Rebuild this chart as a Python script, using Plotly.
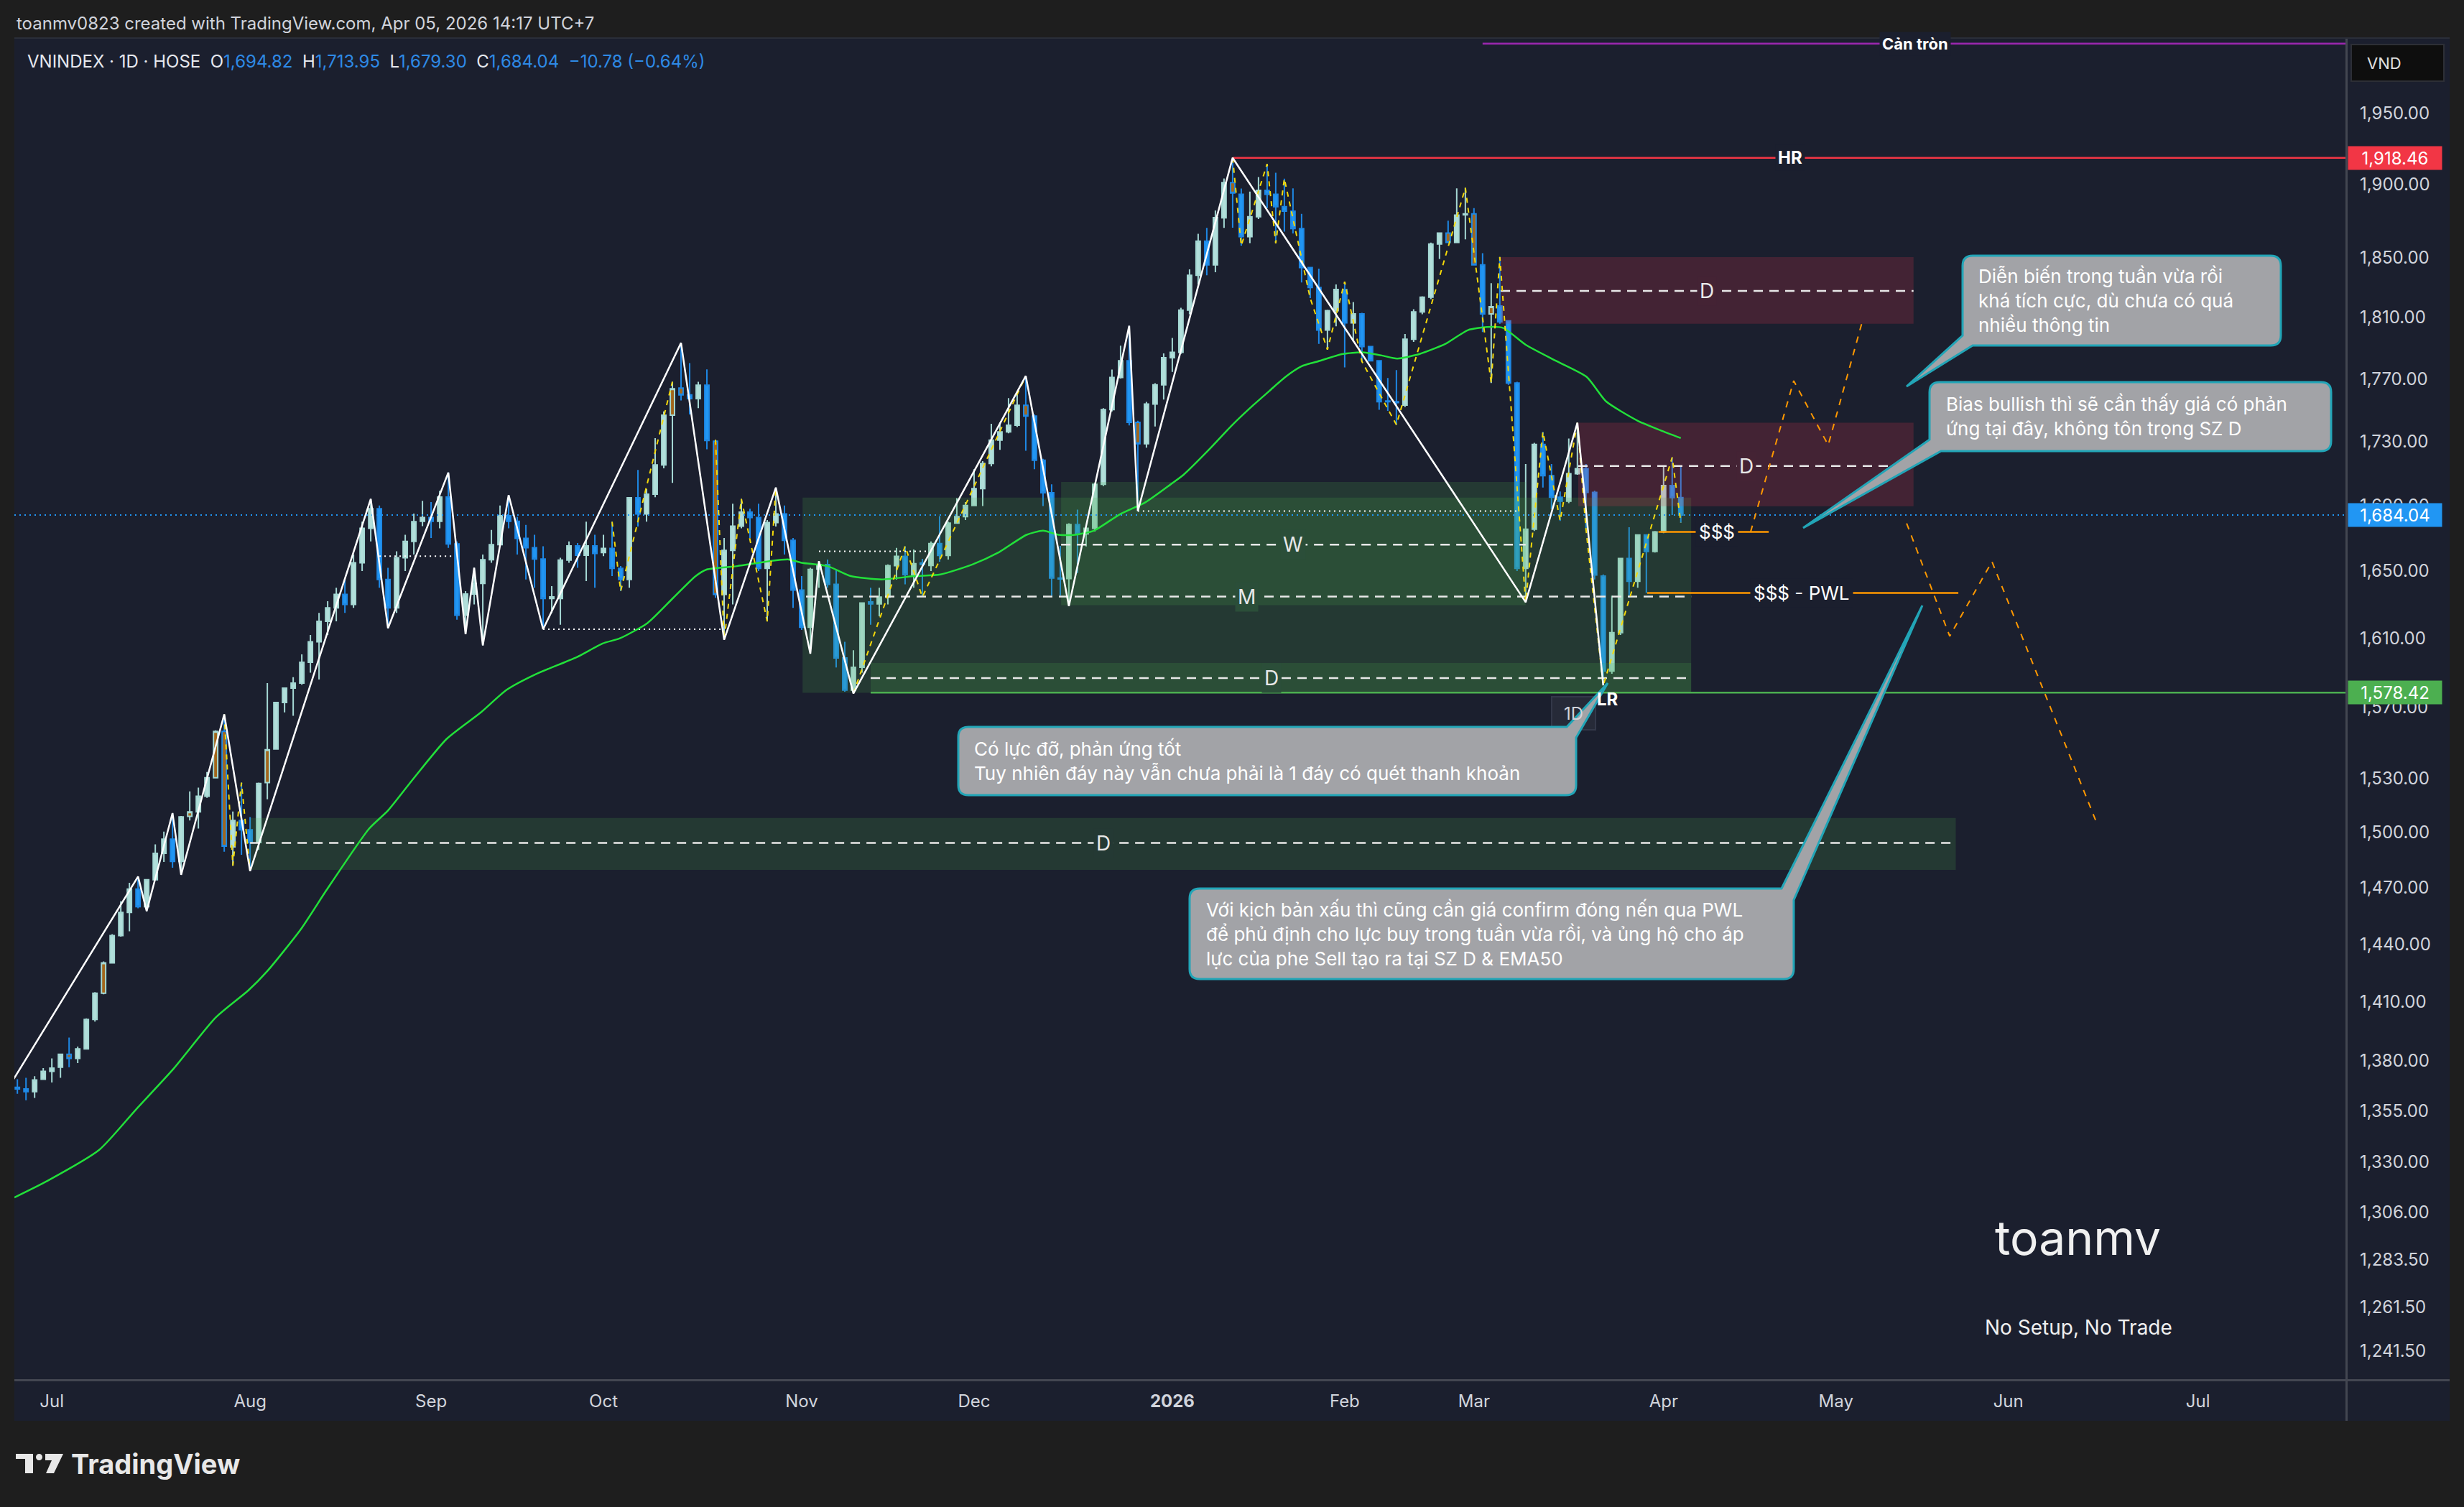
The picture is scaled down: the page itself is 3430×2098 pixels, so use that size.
import numpy as np
import pandas as pd
import plotly.graph_objects as go

# ---------------------------------------------------------------- calendar
FIRST_DAY = "2025-06-25"
LAST_DAY = "2026-07-31"
VN_HOLIDAYS = ["2025-09-01", "2025-09-02", "2026-01-01", "2026-01-02",
               "2026-02-16", "2026-02-17", "2026-02-18", "2026-02-19", "2026-02-20",
               "2026-04-27", "2026-04-30", "2026-05-01"]

# ---------------------------------------------------------------- OHLC (VNINDEX, 1D)
open_ = [1366.8, 1366.0, 1364.7, 1370.8, 1374.8, 1376.9, 1383.4, 1381.3, 1386.1, 1401.1,
         1414.5, 1430.3, 1444.6, 1456.8, 1469.3, 1459.9, 1474.3, 1488.6, 1496.3, 1484.2,
         1508.8, 1511.3, 1519.9, 1530.2, 1556.3, 1492.1, 1506.5, 1501.4, 1494.4, 1527.5,
         1546.3, 1572.8, 1581.0, 1583.9, 1596.0, 1608.0, 1620.0, 1628.0, 1636.0, 1630.0,
         1655.0, 1676.0, 1688.0, 1645.0, 1628.0, 1658.0, 1668.0, 1680.2, 1682.5, 1680.2,
         1695.2, 1666.4, 1623.6, 1636.3, 1642.6, 1656.9, 1666.0, 1683.6, 1680.2, 1669.8,
         1664.1, 1657.3, 1633.6, 1633.6, 1656.6, 1665.2, 1659.6, 1665.2, 1661.2, 1663.7,
         1651.7, 1644.9, 1694.7, 1684.7, 1696.9, 1715.1, 1746.6, 1763.9, 1759.5, 1757.1,
         1765.8, 1730.0, 1636.0, 1662.5, 1677.3, 1685.9, 1682.5, 1651.7, 1679.5, 1684.7,
         1668.6, 1638.6, 1616.5, 1651.2, 1653.9, 1642.0, 1598.5, 1579.9, 1593.1, 1631.5,
         1630.4, 1634.4, 1653.3, 1658.9, 1647.9, 1654.9, 1653.4, 1666.6, 1659.5, 1679.1,
         1683.1, 1689.9, 1700.4, 1716.0, 1730.7, 1736.0, 1740.2, 1752.8, 1746.0, 1718.1,
         1697.8, 1645.8, 1645.5, 1678.2, 1672.5, 1675.9, 1703.1, 1750.1, 1770.8, 1781.6,
         1742.0, 1728.5, 1753.7, 1766.0, 1783.6, 1787.1, 1814.8, 1838.0, 1861.0, 1845.0,
         1876.9, 1901.2, 1893.1, 1864.1, 1877.7, 1895.8, 1893.1, 1884.5, 1881.5, 1869.6,
         1843.2, 1829.8, 1801.6, 1814.4, 1828.5, 1806.4, 1812.3, 1790.8, 1781.6, 1755.6,
         1755.1, 1753.0, 1795.6, 1813.6, 1823.3, 1859.0, 1866.5, 1860.1, 1879.0, 1879.6,
         1845.0, 1812.3, 1817.5, 1807.6, 1767.2, 1651.7, 1675.4, 1728.0, 1708.4, 1695.0,
         1692.6, 1709.6, 1712.8, 1698.1, 1647.0, 1590.9, 1613.4, 1657.6, 1643.9, 1671.9,
         1661.9, 1673.8, 1702.3, 1694.82]
high = [1370.8, 1371.6, 1372.4, 1376.4, 1381.3, 1383.4, 1391.8, 1387.3, 1401.6, 1415.1,
        1431.0, 1445.3, 1462.8, 1472.7, 1476.0, 1474.5, 1493.5, 1500.4, 1510.6, 1509.0,
        1522.6, 1524.7, 1533.4, 1556.9, 1566.0, 1511.5, 1527.5, 1508.4, 1527.5, 1583.9,
        1573.0, 1581.5, 1587.4, 1600.6, 1612.0, 1625.0, 1632.0, 1640.0, 1645.0, 1660.0,
        1680.0, 1694.0, 1690.0, 1652.0, 1662.0, 1672.0, 1685.0, 1692.8, 1692.0, 1699.0,
        1710.4, 1668.0, 1638.0, 1652.0, 1660.0, 1675.0, 1690.0, 1696.4, 1683.0, 1678.0,
        1672.0, 1665.0, 1641.0, 1658.0, 1668.0, 1667.0, 1680.0, 1672.0, 1672.0, 1680.0,
        1653.0, 1695.0, 1712.0, 1700.0, 1732.0, 1749.0, 1768.0, 1793.2, 1780.0, 1768.0,
        1776.0, 1731.0, 1670.0, 1691.0, 1694.0, 1688.0, 1691.0, 1681.0, 1701.0, 1690.0,
        1670.0, 1647.0, 1652.0, 1656.0, 1657.0, 1651.0, 1608.0, 1603.0, 1631.0, 1640.0,
        1640.0, 1654.0, 1664.0, 1665.0, 1663.0, 1657.4, 1668.0, 1683.4, 1680.0, 1694.5,
        1692.0, 1712.5, 1717.5, 1741.1, 1742.0, 1757.4, 1761.4, 1771.7, 1747.0, 1719.0,
        1703.1, 1665.2, 1679.0, 1687.4, 1676.5, 1704.0, 1751.0, 1775.8, 1791.4, 1804.4,
        1743.0, 1755.0, 1767.0, 1786.4, 1796.4, 1816.3, 1842.0, 1866.0, 1870.0, 1882.0,
        1904.0, 1918.46, 1897.0, 1895.0, 1905.0, 1914.1, 1908.0, 1903.9, 1897.2, 1879.6,
        1843.5, 1842.4, 1815.0, 1831.9, 1833.7, 1820.1, 1813.0, 1791.0, 1782.0, 1770.4,
        1775.5, 1799.0, 1815.4, 1824.0, 1860.0, 1867.0, 1875.0, 1897.2, 1897.5, 1883.6,
        1852.9, 1832.7, 1850.3, 1808.0, 1768.0, 1715.7, 1729.0, 1736.0, 1715.7, 1698.6,
        1731.8, 1741.7, 1715.7, 1699.0, 1648.0, 1635.3, 1658.0, 1676.6, 1672.0, 1672.0,
        1674.3, 1714.5, 1719.9, 1713.95]
low = [1363.6, 1360.4, 1361.5, 1370.5, 1369.2, 1371.6, 1376.9, 1378.9, 1386.1, 1400.0,
       1414.0, 1430.0, 1444.0, 1446.9, 1459.0, 1457.5, 1474.0, 1483.9, 1480.8, 1477.0,
       1506.5, 1502.1, 1519.0, 1530.0, 1489.5, 1481.9, 1487.8, 1479.0, 1490.4, 1518.2,
       1546.0, 1567.1, 1565.2, 1583.0, 1590.0, 1586.0, 1612.0, 1620.0, 1625.0, 1628.0,
       1650.0, 1668.0, 1640.0, 1616.0, 1625.0, 1650.0, 1660.0, 1677.3, 1670.0, 1676.0,
       1664.0, 1621.0, 1612.5, 1630.0, 1605.9, 1655.0, 1665.0, 1676.0, 1660.0, 1645.0,
       1640.0, 1615.4, 1625.0, 1618.0, 1655.0, 1652.0, 1644.0, 1640.0, 1659.0, 1647.0,
       1638.0, 1640.0, 1677.0, 1680.0, 1695.0, 1713.0, 1704.0, 1756.0, 1747.0, 1751.0,
       1725.0, 1634.0, 1609.2, 1630.0, 1676.0, 1670.0, 1650.0, 1620.0, 1677.0, 1660.0,
       1628.0, 1615.0, 1601.0, 1640.0, 1640.0, 1593.0, 1579.0, 1578.0, 1590.0, 1618.0,
       1623.0, 1630.0, 1645.0, 1642.0, 1640.0, 1634.5, 1650.0, 1655.7, 1657.0, 1678.7,
       1681.0, 1689.6, 1689.6, 1714.2, 1724.6, 1735.0, 1739.0, 1724.1, 1712.5, 1689.6,
       1635.3, 1635.3, 1629.1, 1648.8, 1664.9, 1674.0, 1702.0, 1749.0, 1770.0, 1740.0,
       1686.5, 1726.0, 1739.4, 1756.5, 1774.4, 1786.0, 1812.0, 1832.0, 1838.0, 1840.0,
       1870.0, 1870.2, 1858.0, 1859.6, 1876.0, 1883.6, 1859.6, 1867.5, 1866.2, 1833.2,
       1822.7, 1792.6, 1788.8, 1804.1, 1777.2, 1793.9, 1781.1, 1781.1, 1750.0, 1749.3,
       1740.5, 1751.8, 1793.9, 1812.0, 1822.0, 1849.0, 1859.6, 1859.6, 1862.2, 1845.0,
       1800.3, 1767.2, 1805.8, 1766.0, 1650.0, 1631.4, 1674.3, 1701.1, 1687.7, 1680.5,
       1691.4, 1709.0, 1675.4, 1645.0, 1582.6, 1589.3, 1612.0, 1634.1, 1640.0, 1636.9,
       1661.2, 1673.0, 1684.1, 1679.30]
close = [1366.0, 1364.7, 1370.5, 1374.8, 1376.4, 1383.4, 1381.3, 1386.1, 1401.1, 1414.5,
         1430.3, 1444.6, 1456.8, 1469.3, 1459.9, 1474.3, 1488.6, 1496.3, 1484.2, 1508.5,
         1511.3, 1519.9, 1530.2, 1556.3, 1492.5, 1506.5, 1501.4, 1494.4, 1527.0, 1545.9,
         1572.8, 1581.0, 1583.9, 1596.0, 1608.0, 1620.0, 1628.0, 1636.0, 1630.0, 1655.0,
         1676.0, 1688.0, 1645.0, 1628.0, 1658.0, 1668.0, 1680.0, 1682.5, 1680.2, 1695.2,
         1666.4, 1623.6, 1636.3, 1642.6, 1656.9, 1666.0, 1683.6, 1680.2, 1669.8, 1664.1,
         1657.3, 1633.6, 1634.5, 1656.6, 1665.2, 1659.6, 1665.2, 1660.7, 1663.7, 1651.7,
         1644.9, 1694.7, 1684.7, 1696.9, 1715.1, 1746.6, 1763.4, 1759.5, 1757.1, 1765.8,
         1730.5, 1636.0, 1662.5, 1677.3, 1685.9, 1682.5, 1651.7, 1679.5, 1684.7, 1668.6,
         1638.6, 1616.5, 1651.0, 1653.9, 1642.0, 1598.5, 1579.9, 1593.1, 1630.9, 1630.4,
         1634.4, 1653.3, 1658.9, 1647.9, 1654.5, 1654.0, 1666.6, 1659.5, 1679.1, 1683.1,
         1689.9, 1700.4, 1716.0, 1730.7, 1736.0, 1740.2, 1752.8, 1746.0, 1718.1, 1697.8,
         1645.8, 1645.3, 1678.2, 1672.5, 1675.9, 1703.1, 1750.1, 1770.8, 1781.6, 1742.0,
         1728.5, 1753.7, 1766.0, 1783.6, 1787.1, 1814.8, 1838.0, 1861.0, 1845.0, 1877.0,
         1901.2, 1893.9, 1864.1, 1877.7, 1895.8, 1893.1, 1884.5, 1881.5, 1869.6, 1843.2,
         1829.8, 1801.6, 1814.4, 1828.5, 1806.4, 1812.3, 1790.8, 1781.6, 1755.1, 1755.1,
         1754.6, 1795.6, 1813.6, 1823.3, 1859.0, 1866.5, 1860.1, 1878.8, 1879.6, 1845.0,
         1812.3, 1817.0, 1807.1, 1767.2, 1651.7, 1675.4, 1728.0, 1708.4, 1695.0, 1692.6,
         1709.6, 1712.8, 1698.1, 1647.7, 1590.9, 1613.4, 1657.6, 1643.9, 1671.9, 1661.9,
         1673.8, 1702.3, 1694.8, 1684.04]
highlight_bars = [6, 10, 20, 23, 24, 29, 76, 77, 81, 117, 130, 141, 166, 169, 171]

# EMA 50
ema_x = [-0.35, 3.5, 9.5, 13.8, 18.1, 23, 26.8, 29, 32.9, 35.9, 40.8, 43, 46, 49.8, 53.75,
         56.75, 60.1, 64.9, 67.9, 69.9, 73.1, 76.1, 78.7, 80, 83.5, 87.25, 89.5, 91, 94,
         96.7, 100.3, 104.1, 107.1, 110.8, 113.75, 117.1, 119, 120.8, 122.7, 124.9, 127.9,
         130.9, 133.8, 135.3, 138.3, 140.9, 143.4, 145.25, 147.1, 149, 150.8, 153.8, 156,
         158.3, 160.1, 162.7, 165.7, 168.3, 170.5, 172.4, 175, 178.7, 182.1, 184.3, 188,
         190.6, 193]
ema_y = [1313, 1321, 1336, 1356, 1376, 1402, 1416, 1426, 1448, 1469, 1502, 1512, 1530, 1552,
         1567, 1580, 1589, 1599, 1607, 1610, 1619, 1634, 1647, 1651, 1653, 1656, 1657, 1655,
         1653, 1647, 1645, 1647, 1648, 1654, 1661, 1672, 1674.5, 1672, 1672, 1674.5, 1684.5,
         1692, 1703, 1709, 1725, 1740, 1753, 1762, 1771, 1778, 1781, 1786, 1787, 1785, 1783,
         1786, 1792.6, 1801.6, 1803.6, 1803, 1792, 1781, 1771, 1755.5, 1743, 1737, 1732]

# major zigzag pivots (bar index, price)
zz_x = [-3, 14, 15, 18, 19, 24, 27, 41, 43, 50, 52, 53, 54, 57, 61, 77, 82, 88, 92, 93,
        97, 117, 122, 129, 130, 141, 175, 181, 184]
zz_y = [1353, 1476, 1457.5, 1510.6, 1477, 1566, 1479, 1694, 1616, 1710.4, 1612.5, 1652,
        1605.9, 1696.4, 1615.4, 1793.2, 1609.2, 1701, 1601, 1656, 1578, 1771.7, 1629.1,
        1804.4, 1686.5, 1918.46, 1631.4, 1741.7, 1582.6]
# minor (internal) zigzag
mz_x = [24, 25, 26, 27, None, 69, 70, 76, None, 81, 82, 84, 87, 88, None, 97, 103, 105, 117,
        None, 141, 142, 145, 146, 147, 150, 152, 154, 156, 160, 168, 171, 172, 175, 177, 179,
        181, 182, 184, 192, 193]
mz_y = [1566, 1481.9, 1527.5, 1479, None, 1680, 1638, 1768, None, 1731, 1609.2, 1694, 1620,
        1701, None, 1578, 1665, 1634.5, 1771.7, None, 1918.46, 1858, 1914.1, 1859.6, 1903.9,
        1822.7, 1788.8, 1833.7, 1781.1, 1740.5, 1897.5, 1767.2, 1850.3, 1631.4, 1736.0,
        1680.5, 1741.7, 1675.4, 1582.6, 1719.9, 1679.3]

# projected paths (future bars)
bull_x = [201.1, 206.1, 210.1, 214.1]
bull_y = [1673.8, 1768.6, 1727.6, 1808.2]
bear_x = [219.2, 224.2, 229.1, 241.2]
bear_y = [1679.0, 1611.3, 1655.7, 1505.8]

# zones
zone_start = [27.0, 91.1, 121.1, 99.0, 172.1, 181.1]
zone_end = [224.9, 194.2, 175.0, 194.2, 220.0, 220.0]
zone_low = [1479.6, 1578.4, 1629.6, 1578.4, 1805.8, 1689.5]
zone_high = [1507.9, 1694.8, 1704.5, 1595.6, 1850.2, 1741.8]
zone_side = ["demand", "demand", "demand", "demand", "supply", "supply"]
mid_start = [27.0, 91.5, 121.1, 99.0, 172.1, 181.1]
mid_end = [224.9, 194.2, 175.0, 194.2, 220.0, 220.0]
mid_level = [1494.2, 1634.7, 1666.0, 1586.8, 1827.5, 1714.5]
mid_label = ["D", "M", "W", "D", "D", "D"]
mid_label_x = [126.0, 142.6, 148.0, 145.5, 196.0, 200.6]

# dotted liquidity lines
dot_start = [42.0, 61.0, 93.0, 130.0]
dot_end = [50.7, 82.0, 105.8, 174.0]
dot_level = [1659.0, 1615.4, 1662.0, 1686.5]

# key levels
hr_level, hr_from = 1918.46, 141
round_level, round_from = 2000.0, 170
support_level, support_from = 1578.42, 99
liq_levels = [1673.8, 1636.9]
liq_start = [190.4, 189.1]
liq_end = [203.2, 225.2]
liq_text = ["$$$", "$$$ - PWL"]
liq_text_x = [197.2, 207.0]

price_ticks = [1950, 1900, 1850, 1810, 1770, 1730, 1690, 1650, 1610, 1570, 1530, 1500,
               1470, 1440, 1410, 1380, 1355, 1330, 1306, 1283.5, 1261.5, 1241.5]

# ---------------------------------------------------------------- geometry / styling
W, H = 3430, 2098
PL, PR, PT, PB = 20, 3266, 53, 1920
XR = [-0.35, 270.2]
YR = [np.log10(1228.8), np.log10(2004.1)]
NAVY = "#1b1f2e"
OUTER = "#1e1e1e"
FONT = "Inter, Roboto, sans-serif"
TXT = "#d1d4dc"
UP_FILL, UP_LINE = "#b2dfdb", "#a5d8d4"
DN_FILL, DN_LINE = "#2196f3", "#1e88e5"
ORANGE_BODY = "#a3661a"
DEMAND = (76, 175, 80, 0.18)
SUPPLY = (242, 54, 80, 0.19)


def xp(px):
    return (px - PL) / (PR - PL)


def yp(py):
    return (PB - py) / (PB - PT)


def rgba(c):
    return f"rgba({c[0]},{c[1]},{c[2]},{c[3]})"


def blend(base, over):
    r, g, b = base
    a = over[3]
    return (r + (over[0] - r) * a, g + (over[1] - g) * a, b + (over[2] - b) * a)


def hexc(c):
    return "#%02x%02x%02x" % tuple(int(round(v)) for v in c)


sessions = pd.bdate_range(FIRST_DAY, LAST_DAY, freq="C", holidays=VN_HOLIDAYS)
n = len(close)
x = np.arange(n)
pos = pd.Series(np.arange(len(sessions)), index=sessions)
month_first = pos.groupby([sessions.year, sessions.month]).min()
tick_idx, tick_txt = [], []
for (yr, mo), idx in month_first.items():
    if idx == 0:
        continue
    tick_idx.append(int(idx))
    tick_txt.append(f"<b>{yr}</b>" if mo == 1 else sessions[idx].strftime("%b"))

fig = go.Figure()

# zones
for x0, x1, lo, hi, side in zip(zone_start, zone_end, zone_low, zone_high, zone_side):
    col = DEMAND if side == "demand" else SUPPLY
    fig.add_trace(go.Scatter(x=[x0, x1, x1, x0, x0], y=[lo, lo, hi, hi, lo], mode="lines",
                             fill="toself", fillcolor=rgba(col), line=dict(width=0),
                             hoverinfo="skip"))
# zone mid lines
for x0, x1, lv in zip(mid_start, mid_end, mid_level):
    fig.add_trace(go.Scatter(x=[x0, x1], y=[lv, lv], mode="lines",
                             line=dict(color="#e8e8e8", width=2.5, dash="13px,9px"),
                             hoverinfo="skip"))
# dotted liquidity
for x0, x1, lv in zip(dot_start, dot_end, dot_level):
    fig.add_trace(go.Scatter(x=[x0, x1], y=[lv, lv], mode="lines",
                             line=dict(color="#ffffff", width=2, dash="2px,5px"),
                             hoverinfo="skip"))
# last price dotted line
fig.add_trace(go.Scatter(x=XR, y=[close[-1], close[-1]], mode="lines",
                         line=dict(color="#2196f3", width=2, dash="2px,5px"), hoverinfo="skip"))
# support line
fig.add_trace(go.Scatter(x=[support_from, XR[1]], y=[support_level] * 2, mode="lines",
                         line=dict(color="#4caf50", width=2.5), hoverinfo="skip"))
# HR & round resistance
fig.add_trace(go.Scatter(x=[hr_from, XR[1]], y=[hr_level] * 2, mode="lines",
                         line=dict(color="#f23645", width=2.5), hoverinfo="skip"))
fig.add_trace(go.Scatter(x=[round_from, XR[1]], y=[round_level] * 2, mode="lines",
                         line=dict(color="#9c27b0", width=2.5), hoverinfo="skip"))

# candles
hl = set(highlight_bars)
norm = [i for i in range(n) if i not in hl]
hb = [i for i in range(n) if i in hl]
pick = lambda arr, ids: [arr[i] for i in ids]
fig.add_trace(go.Candlestick(
    x=norm, open=pick(open_, norm), high=pick(high, norm), low=pick(low, norm),
    close=pick(close, norm),
    increasing=dict(fillcolor=UP_FILL, line=dict(color=UP_LINE, width=2)),
    decreasing=dict(fillcolor=DN_FILL, line=dict(color=DN_LINE, width=2)),
    whiskerwidth=0, hoverinfo="skip"))
fig.add_trace(go.Candlestick(
    x=hb, open=pick(open_, hb), high=pick(high, hb), low=pick(low, hb), close=pick(close, hb),
    increasing=dict(fillcolor=ORANGE_BODY, line=dict(color=UP_LINE, width=2)),
    decreasing=dict(fillcolor=ORANGE_BODY, line=dict(color=DN_LINE, width=2)),
    whiskerwidth=0, hoverinfo="skip"))

# EMA50
fig.add_trace(go.Scatter(x=ema_x, y=ema_y, mode="lines", line=dict(color="#22e03a", width=2.5,
                         shape="spline", smoothing=0.6), hoverinfo="skip"))
# zigzags
fig.add_trace(go.Scatter(x=mz_x, y=mz_y, mode="lines", connectgaps=False,
                         line=dict(color="#f5d90a", width=2, dash="7px,7px"), hoverinfo="skip"))
fig.add_trace(go.Scatter(x=zz_x, y=zz_y, mode="lines", line=dict(color="#ffffff", width=2.5),
                         hoverinfo="skip"))
# orange liquidity lines
for lv, x0, x1 in zip(liq_levels, liq_start, liq_end):
    fig.add_trace(go.Scatter(x=[x0, x1], y=[lv, lv], mode="lines",
                             line=dict(color="#ff9800", width=2.5), hoverinfo="skip"))
# projections
for px_, py_ in ((bull_x, bull_y), (bear_x, bear_y)):
    fig.add_trace(go.Scatter(x=px_, y=py_, mode="lines",
                             line=dict(color="#ff9800", width=2, dash="9px,9px"),
                             hoverinfo="skip"))

# ---------------------------------------------------------------- shapes
shapes = []
shapes.append(dict(type="rect", xref="paper", yref="paper", x0=xp(PL), x1=xp(3410),
                   y0=yp(1978), y1=yp(PT), fillcolor=NAVY, line=dict(width=0), layer="below"))
shapes.append(dict(type="line", xref="paper", yref="paper", x0=xp(3266.5), x1=xp(3266.5),
                   y0=yp(1978), y1=yp(PT), line=dict(color="#434651", width=3)))
shapes.append(dict(type="line", xref="paper", yref="paper", x0=xp(PL), x1=xp(3410),
                   y0=yp(1921.5), y1=yp(1921.5), line=dict(color="#434651", width=3)))
shapes.append(dict(type="line", xref="paper", yref="paper", x0=xp(PL), x1=xp(3410),
                   y0=yp(PT), y1=yp(PT), line=dict(color="#2a2e39", width=2)))
# VND box
shapes.append(dict(type="rect", xref="paper", yref="paper", x0=xp(3273), x1=xp(3402),
                   y0=yp(113), y1=yp(62), fillcolor="#0e0e0e", line=dict(color="#2d2f36", width=2)))
# 1D box
shapes.append(dict(type="rect", xref="paper", yref="paper", x0=xp(2160), x1=xp(2221),
                   y0=yp(1016), y1=yp(970), fillcolor="#262a38", line=dict(color="#333849", width=2)))


def P(px, py):
    return f"{xp(px):.5f},{yp(py):.5f}"


def callout_path(x0, y0, x1, y1, r, corner, b1, b2, tip):
    if corner == "bl":
        d = [f"M {P(x0 + r, y0)}", f"L {P(x1 - r, y0)}", f"Q {P(x1, y0)} {P(x1, y0 + r)}",
             f"L {P(x1, y1 - r)}", f"Q {P(x1, y1)} {P(x1 - r, y1)}",
             f"L {P(x0 + b2, y1)}", f"L {P(*tip)}", f"L {P(x0, y1 - b1)}",
             f"L {P(x0, y0 + r)}", f"Q {P(x0, y0)} {P(x0 + r, y0)}", "Z"]
    else:
        d = [f"M {P(x0 + r, y0)}", f"L {P(x1 - b2, y0)}", f"L {P(*tip)}", f"L {P(x1, y0 + b1)}",
             f"L {P(x1, y1 - r)}", f"Q {P(x1, y1)} {P(x1 - r, y1)}",
             f"L {P(x0 + r, y1)}", f"Q {P(x0, y1)} {P(x0, y1 - r)}",
             f"L {P(x0, y0 + r)}", f"Q {P(x0, y0)} {P(x0 + r, y0)}", "Z"]
    return " ".join(d)


callouts = [
    dict(box=(2732, 356, 3175, 481), corner="bl", b=(14, 14), tip=(2654, 538), tx=2752,
         lines=["Diễn biến trong tuần vừa rồi", "khá tích cực, dù chưa có quá", "nhiều thông tin"]),
    dict(box=(2686, 532, 3245, 628), corner="bl", b=(16, 16), tip=(2510, 735), tx=2707,
         lines=["Bias bullish thì sẽ cần thấy giá có phản", "ứng tại đây, không tôn trọng SZ D"]),
    dict(box=(1334, 1012, 2194, 1107), corner="tr", b=(15, 13), tip=(2238, 951), tx=1354,
         lines=["Có lực đỡ, phản ứng tốt",
                "Tuy nhiên đáy này vẫn chưa phải là 1 đáy có quét thanh khoản"]),
    dict(box=(1656, 1237, 2497, 1363), corner="tr", b=(16, 17), tip=(2676, 843), tx=1677,
         lines=["Với kịch bản xấu thì cũng cần giá confirm đóng nến qua PWL",
                "để phủ định cho lực buy trong tuần vừa rồi, và ủng hộ cho áp",
                "lực của phe Sell tạo ra tại SZ D & EMA50"]),
]
for c in callouts:
    x0, y0, x1, y1 = c["box"]
    shapes.append(dict(type="path", xref="paper", yref="paper", layer="above",
                       path=callout_path(x0, y0, x1, y1, 14, c["corner"], c["b"][0], c["b"][1], c["tip"]),
                       fillcolor="#a2a3a7", line=dict(color="#22a5b7", width=3)))

# TradingView logo
shapes.append(dict(type="rect", xref="paper", yref="paper", x0=xp(22), x1=xp(46), y0=yp(2031),
                   y1=yp(2024), fillcolor="#e8e8e8", line=dict(width=0)))
shapes.append(dict(type="rect", xref="paper", yref="paper", x0=xp(35), x1=xp(46), y0=yp(2051),
                   y1=yp(2024), fillcolor="#e8e8e8", line=dict(width=0)))
shapes.append(dict(type="circle", xref="paper", yref="paper", x0=xp(50), x1=xp(59), y0=yp(2033),
                   y1=yp(2024), fillcolor="#e8e8e8", line=dict(width=0)))
shapes.append(dict(type="path", xref="paper", yref="paper",
                   path=f"M {P(63, 2024)} L {P(88, 2024)} L {P(75, 2051)} L {P(64, 2051)} L {P(72, 2033)} L {P(63, 2033)} Z",
                   fillcolor="#e8e8e8", line=dict(width=0)))

# ---------------------------------------------------------------- annotations
ann = []


def note(**kw):
    kw.setdefault("showarrow", False)
    kw.setdefault("xanchor", "center")
    kw.setdefault("yanchor", "middle")
    ann.append(kw)


note(x=xp(21), y=yp(33), xref="paper", yref="paper", xanchor="left",
     text="toanmv0823 created with TradingView.com, Apr 05, 2026 14:17 UTC+7",
     font=dict(size=24, color=TXT, family=FONT))
BLUE = "#2e8ae6"
legend = ("VNINDEX · 1D · HOSE  "
          f"O<span style='color:{BLUE}'>{open_[-1]:,.2f}</span>  "
          f"H<span style='color:{BLUE}'>{high[-1]:,.2f}</span>  "
          f"L<span style='color:{BLUE}'>{low[-1]:,.2f}</span>  "
          f"C<span style='color:{BLUE}'>{close[-1]:,.2f}</span>  "
          f"<span style='color:{BLUE}'>−10.78 (−0.64%)</span>")
note(x=xp(36), y=yp(85), xref="paper", yref="paper", xanchor="left",
     text=legend, font=dict(size=24, color="#e6e8ee", family=FONT))
note(x=xp(3293), y=yp(88), xref="paper", yref="paper", xanchor="left",
     text="VND", font=dict(size=22, color="#e0e0e0", family=FONT))

# zone labels with background of composited zone colour
bg = (27, 31, 46)
for lx, lv, lt in zip(mid_label_x, mid_level, mid_label):
    col = bg
    for x0, x1, lo, hi, side in zip(zone_start, zone_end, zone_low, zone_high, zone_side):
        if x0 <= lx <= x1 and lo <= lv <= hi:
            col = blend(col, DEMAND if side == "demand" else SUPPLY)
    note(x=lx, y=np.log10(lv), xref="x", yref="y", text=lt,
         font=dict(size=28, color="#e8e8e8", family=FONT), bgcolor=hexc(col), borderpad=3)
note(x=205.7, y=np.log10(hr_level), xref="x", yref="y", text="<b>HR</b>",
     font=dict(size=24, color="#ffffff", family=FONT), bgcolor=NAVY, borderpad=3)
note(x=220.2, y=np.log10(round_level), xref="x", yref="y", text="<b>Cản tròn</b>",
     font=dict(size=22, color="#ffffff", family=FONT), bgcolor=NAVY, borderpad=3)
for lv, tx, t in zip(liq_levels, liq_text_x, liq_text):
    note(x=tx, y=np.log10(lv), xref="x", yref="y", text=t,
         font=dict(size=26, color="#ffffff", family=FONT), bgcolor=NAVY, borderpad=4)
note(x=184.5, y=np.log10(low[184]), xref="x", yref="y", yshift=-19, text="<b>LR</b>",
     font=dict(size=24, color="#ffffff", family=FONT))
note(x=xp(2190.5), y=yp(993), xref="paper", yref="paper", text="1D",
     font=dict(size=24, color=TXT, family=FONT))

# price badges on the axis
for lv, colr in ((hr_level, "#f23645"), (close[-1], "#2196f3"), (support_level, "#4caf50")):
    note(x=xp(3334), y=np.log10(lv), xref="paper", yref="y", text=f"{lv:,.2f}",
         bgcolor=colr, width=128, height=30, borderpad=1,
         font=dict(size=24, color="#ffffff", family=FONT))

# callout texts: one multi-line block per box, vertically centred in the box
for c in callouts:
    x0, y0, x1, y1 = c["box"]
    note(x=xp(c["tx"]), y=yp((y0 + y1) / 2), xref="paper", yref="paper", xanchor="left",
         align="left", text="<br>".join(c["lines"]),
         font=dict(size=26, color="#ffffff", family=FONT))

note(x=xp(2892), y=yp(1723), xref="paper", yref="paper", text="toanmv",
     font=dict(size=66, color="#f0f0f0", family=FONT))
note(x=xp(2893), y=yp(1848), xref="paper", yref="paper", text="No Setup, No Trade",
     font=dict(size=28, color="#f0f0f0", family=FONT))
note(x=xp(97), y=yp(2038), xref="paper", yref="paper", xanchor="left",
     text="<b>TradingView</b>", font=dict(size=38, color="#e8e8e8", family=FONT))

fig.update_layout(
    width=W, height=H, autosize=False,
    margin=dict(l=PL, r=W - PR, t=PT, b=H - PB, pad=0),
    paper_bgcolor=OUTER, plot_bgcolor=NAVY,
    showlegend=False, hovermode=False,
    shapes=shapes, annotations=ann,
    font=dict(family=FONT, color=TXT),
    xaxis=dict(range=XR, tickvals=tick_idx, ticktext=tick_txt, showgrid=False, zeroline=False,
               showline=False, ticks="", tickfont=dict(size=24, color=TXT, family=FONT),
               rangeslider=dict(visible=False), ticklabelstandoff=14, fixedrange=True),
    yaxis=dict(type="log", range=YR, side="right", tickvals=price_ticks,
               ticktext=[f"{v:,.2f}" for v in price_ticks], showgrid=False, zeroline=False,
               showline=False, ticks="", tickfont=dict(size=24, color=TXT, family=FONT),
               ticklabelstandoff=18, fixedrange=True),
)

fig.write_html("out.html")
